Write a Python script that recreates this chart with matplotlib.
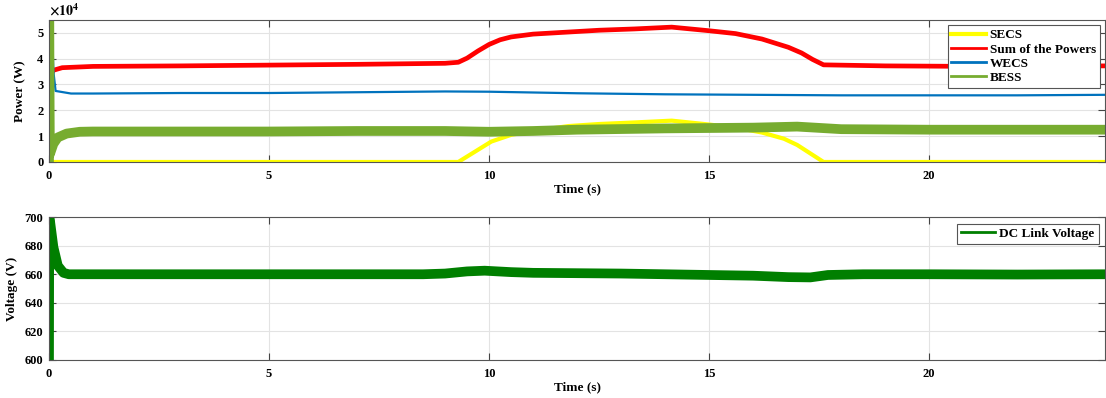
import matplotlib
matplotlib.use("Agg")
import matplotlib.pyplot as plt
from matplotlib.lines import Line2D

# values (power in W, voltage in V, time in s)
t_secs = [0, 9.3, 10.05, 10.5, 11.0, 11.8, 12.5, 13.3, 14.15, 15.0, 15.6, 16.2, 16.7, 17.0, 17.6, 24]
p_secs = [0, 0, 7900, 10500, 12000, 13900, 14700, 15300, 16000, 14500, 13300, 11400, 9000, 6600, 0, 0]

t_sum = [0.05, 0.1, 0.3, 1, 3, 5, 7, 9.0, 9.3, 9.5, 9.75, 10.0, 10.25, 10.5, 11.0, 11.8, 12.5,
         13.3, 14.15, 15.0, 15.6, 16.2, 16.5, 16.8, 17.1, 17.35, 17.6, 19, 21, 24]
p_sum = [34000, 35500, 36500, 37000, 37200, 37500, 37800, 38200, 38600, 40200, 43000, 45500,
         47300, 48400, 49500, 50300, 51000, 51500, 52200, 50800, 49700, 47600, 46000, 44400,
         42200, 39700, 37600, 37200, 37000, 37200]

t_wecs = [0, 0.03, 0.06, 0.1, 0.15, 0.5, 1, 3, 5, 7, 9, 10, 12, 14, 16, 18, 20, 22, 24]
p_wecs = [0, 56000, 56000, 35000, 27500, 26500, 26500, 26700, 26700, 27000, 27300, 27200,
          26600, 26200, 26000, 25800, 25800, 25800, 26000]

t_bess = [0, 0.005, 0.02, 0.1, 0.2, 0.4, 0.7, 1, 3, 5, 7, 9, 10, 11, 12, 14, 16, 17, 18, 20, 22, 24]
p_bess = [0, 56000, 3000, 7000, 9500, 11000, 11700, 11800, 11800, 11800, 12000, 12000, 11700,
          12000, 12500, 13000, 13300, 13700, 12700, 12500, 12500, 12500]

t_vdc = [0, 0.005, 0.02, 0.1, 0.2, 0.33, 0.45, 0.6, 1, 3, 5, 7, 8.5, 9.0, 9.5, 9.9, 10.5, 11,
         13, 15, 16, 16.8, 17.3, 17.7, 18.5, 20, 22, 24]
v_dc = [600, 700, 698, 679, 666, 661, 660, 660, 660, 660, 660, 660, 660, 660.5, 662, 662.5,
        661.5, 661, 660.5, 659.5, 659, 658, 657.8, 659.5, 660, 660, 659.8, 660]

plt.rcParams["font.family"] = ["Liberation Serif", "DejaVu Serif"]
plt.rcParams["font.weight"] = "bold"
plt.rcParams["mathtext.fontset"] = "stix"

fig = plt.figure(figsize=(11.06, 3.98), dpi=100)
ax1 = fig.add_axes([0.0443, 0.593, 0.955, 0.357])
ax2 = fig.add_axes([0.0443, 0.0955, 0.955, 0.359])


def style(ax):
    ax.grid(True, color="#e3e3e3", lw=0.8)
    ax.set_axisbelow(True)
    ax.tick_params(direction="in", top=True, right=True, labelsize=9,
                   color="#444444", length=5, pad=4)
    ax.tick_params(axis="x", pad=6)
    for s in ax.spines.values():
        s.set_color("#555555")
        s.set_linewidth(0.8)
    ax.set_xlim(0, 24)
    ax.set_xticks([0, 5, 10, 15, 20])
    ax.set_xlabel("Time (s)", fontsize=9.5, fontweight="bold", labelpad=1)


ax1.plot(t_secs, p_secs, color="#FFFF00", lw=3.0, solid_joinstyle="round")
ax1.plot(t_sum, p_sum, color="#FF0000", lw=3.4)
ax1.plot(t_wecs, p_wecs, color="#0072BD", lw=1.6)
ax1.plot(t_bess, p_bess, color="#77AC30", lw=7)
style(ax1)
ax1.set_ylim(0, 55000)
ax1.set_yticks([0, 10000, 20000, 30000, 40000, 50000])
ax1.set_yticklabels(["0", "1", "2", "3", "4", "5"])
ax1.set_ylabel("Power (W)", fontsize=9.5, fontweight="bold", labelpad=8)
ax1.text(0.0, 1.01, r"$\times10^{4}$", transform=ax1.transAxes, fontsize=10,
         ha="left", va="bottom")
handles = [Line2D([], [], color="#FFFF00", lw=3.0),
           Line2D([], [], color="#FF0000", lw=2.0),
           Line2D([], [], color="#0072BD", lw=2.0),
           Line2D([], [], color="#77AC30", lw=2.0)]
leg = ax1.legend(handles, ["SECS", "Sum of the Powers", "WECS", "BESS"],
                 loc="upper right", fontsize=9.5, fancybox=False, framealpha=1,
                 edgecolor="#555555", borderpad=0.3, labelspacing=0.15,
                 handlelength=2.6, handletextpad=0.3, borderaxespad=0.4)
leg.get_frame().set_linewidth(0.8)

ax2.plot(t_vdc, v_dc, color="#007F00", lw=7)
style(ax2)
ax2.set_ylim(600, 700)
ax2.set_yticks([600, 620, 640, 660, 680, 700])
ax2.set_ylabel("Voltage (V)", fontsize=9.5, fontweight="bold", labelpad=5)
leg2 = ax2.legend([Line2D([], [], color="#007F00", lw=2.0)], ["DC Link Voltage"],
                  loc="upper right", fontsize=9.5, fancybox=False, framealpha=1,
                  edgecolor="#555555", borderpad=0.3, handlelength=2.6,
                  handletextpad=0.3, borderaxespad=0.5)
leg2.get_frame().set_linewidth(0.8)

fig.savefig("out.png", dpi=100)
